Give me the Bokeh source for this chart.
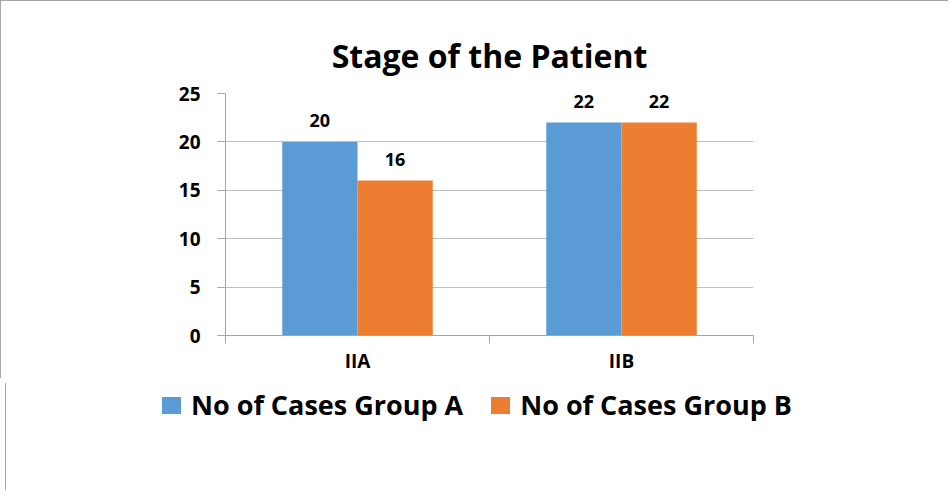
from bokeh.plotting import figure
from bokeh.models import ColumnDataSource, FixedTicker, LabelSet, Range1d, Div
from bokeh.layouts import column
from bokeh.core.properties import value
from bokeh.embed import file_html
from bokeh.resources import INLINE

title_text = "Stage of the Patient"
stages = ["IIA", "IIB"]
group_a = [20, 22]
group_b = [16, 22]
series_names = ["No of Cases Group A", "No of Cases Group B"]
y_ticks = [0, 5, 10, 15, 20, 25]
colors = ["#5B9BD5", "#ED7D31"]

FONT = "Open Sans"
centers = [i + 0.5 for i in range(len(stages))]
bw = 0.285
xa = [c - bw / 2 for c in centers]
xb = [c + bw / 2 for c in centers]

src_a = ColumnDataSource(dict(x=xa, y=group_a, t=[str(v) for v in group_a]))
src_b = ColumnDataSource(dict(x=xb, y=group_b, t=[str(v) for v in group_b]))

p = figure(frame_width=527, frame_height=241, output_backend="svg", toolbar_location=None,
           x_range=Range1d(0, len(stages)), y_range=Range1d(0, 25),
           min_border_left=224, min_border_right=196, min_border_top=92, min_border_bottom=44,
           title=title_text)
p.styles = {"border-left": "1px solid #a6a6a6", "border-top": "1px solid #a6a6a6"}
p.outline_line_color = None
p.background_fill_color = "white"
p.border_fill_color = "white"

p.title.align = "center"
p.title.text_font = FONT
p.title.text_font_style = "bold"
p.title.text_font_size = "32px"
p.title.text_color = "black"
p.title.standoff = 33

ra = p.vbar(x="x", top="y", width=bw, source=src_a, fill_color=colors[0], line_color=None)
rb = p.vbar(x="x", top="y", width=bw, source=src_b, fill_color=colors[1], line_color=None)

for src in (src_a, src_b):
    lbl = LabelSet(x="x", y="y", text="t", source=src, text_align="center", text_baseline="middle",
                   y_offset=21, text_font=value(FONT), text_font_style="bold", text_font_size="18px",
                   text_color="black")
    p.add_layout(lbl)

axis_gray = "#a6a6a6"
grid_gray = "#c0c0c0"

p.xgrid.visible = False
p.ygrid.ticker = FixedTicker(ticks=y_ticks)
p.ygrid.grid_line_color = grid_gray

xa_ = p.xaxis[0]
xa_.ticker = FixedTicker(ticks=centers, minor_ticks=[float(i) for i in range(len(stages) + 1)])
xa_.major_label_overrides = {c: s for c, s in zip(centers, stages)}
xa_.major_tick_out = 0
xa_.major_tick_in = 0
xa_.minor_tick_out = 8
xa_.minor_tick_in = 0
xa_.minor_tick_line_color = axis_gray
xa_.axis_line_color = axis_gray
xa_.major_label_text_font = FONT
xa_.major_label_text_font_style = "bold"
xa_.major_label_text_font_size = "19px"
xa_.major_label_text_color = "black"
xa_.major_label_standoff = 4

ya_ = p.yaxis[0]
ya_.ticker = FixedTicker(ticks=y_ticks)
ya_.major_tick_out = 8
ya_.major_tick_in = 0
ya_.minor_tick_line_color = None
ya_.major_tick_line_color = axis_gray
ya_.axis_line_color = axis_gray
ya_.major_label_text_font = FONT
ya_.major_label_text_font_style = "bold"
ya_.major_label_text_font_size = "19px"
ya_.major_label_text_color = "black"
ya_.major_label_standoff = 17

# legend strip below the chart, built from the series names and colours
items_html = []
for i, (name, col) in enumerate(zip(series_names, colors)):
    gap = "0px" if i == 0 else "28px"
    items_html.append(
        f'<span style="display:inline-block;width:19px;height:17px;background:{col};'
        f'margin-left:{gap};margin-right:10px;"></span><span>{name}</span>')
legend_html = (
    f'<div style="display:flex;align-items:center;font-family:\'{FONT}\';font-weight:bold;'
    f'font-size:27px;line-height:32px;color:black;padding-left:156px;padding-top:6px;white-space:nowrap;">'
    + "".join(items_html) + '</div>')
leg = Div(text=legend_html, width=947, height=112)
leg.styles = {"border-left": "1px solid #a6a6a6", "background-color": "white"}

layout = column(p, leg, spacing=0)
open("out.html", "w").write(file_html(layout, INLINE))
